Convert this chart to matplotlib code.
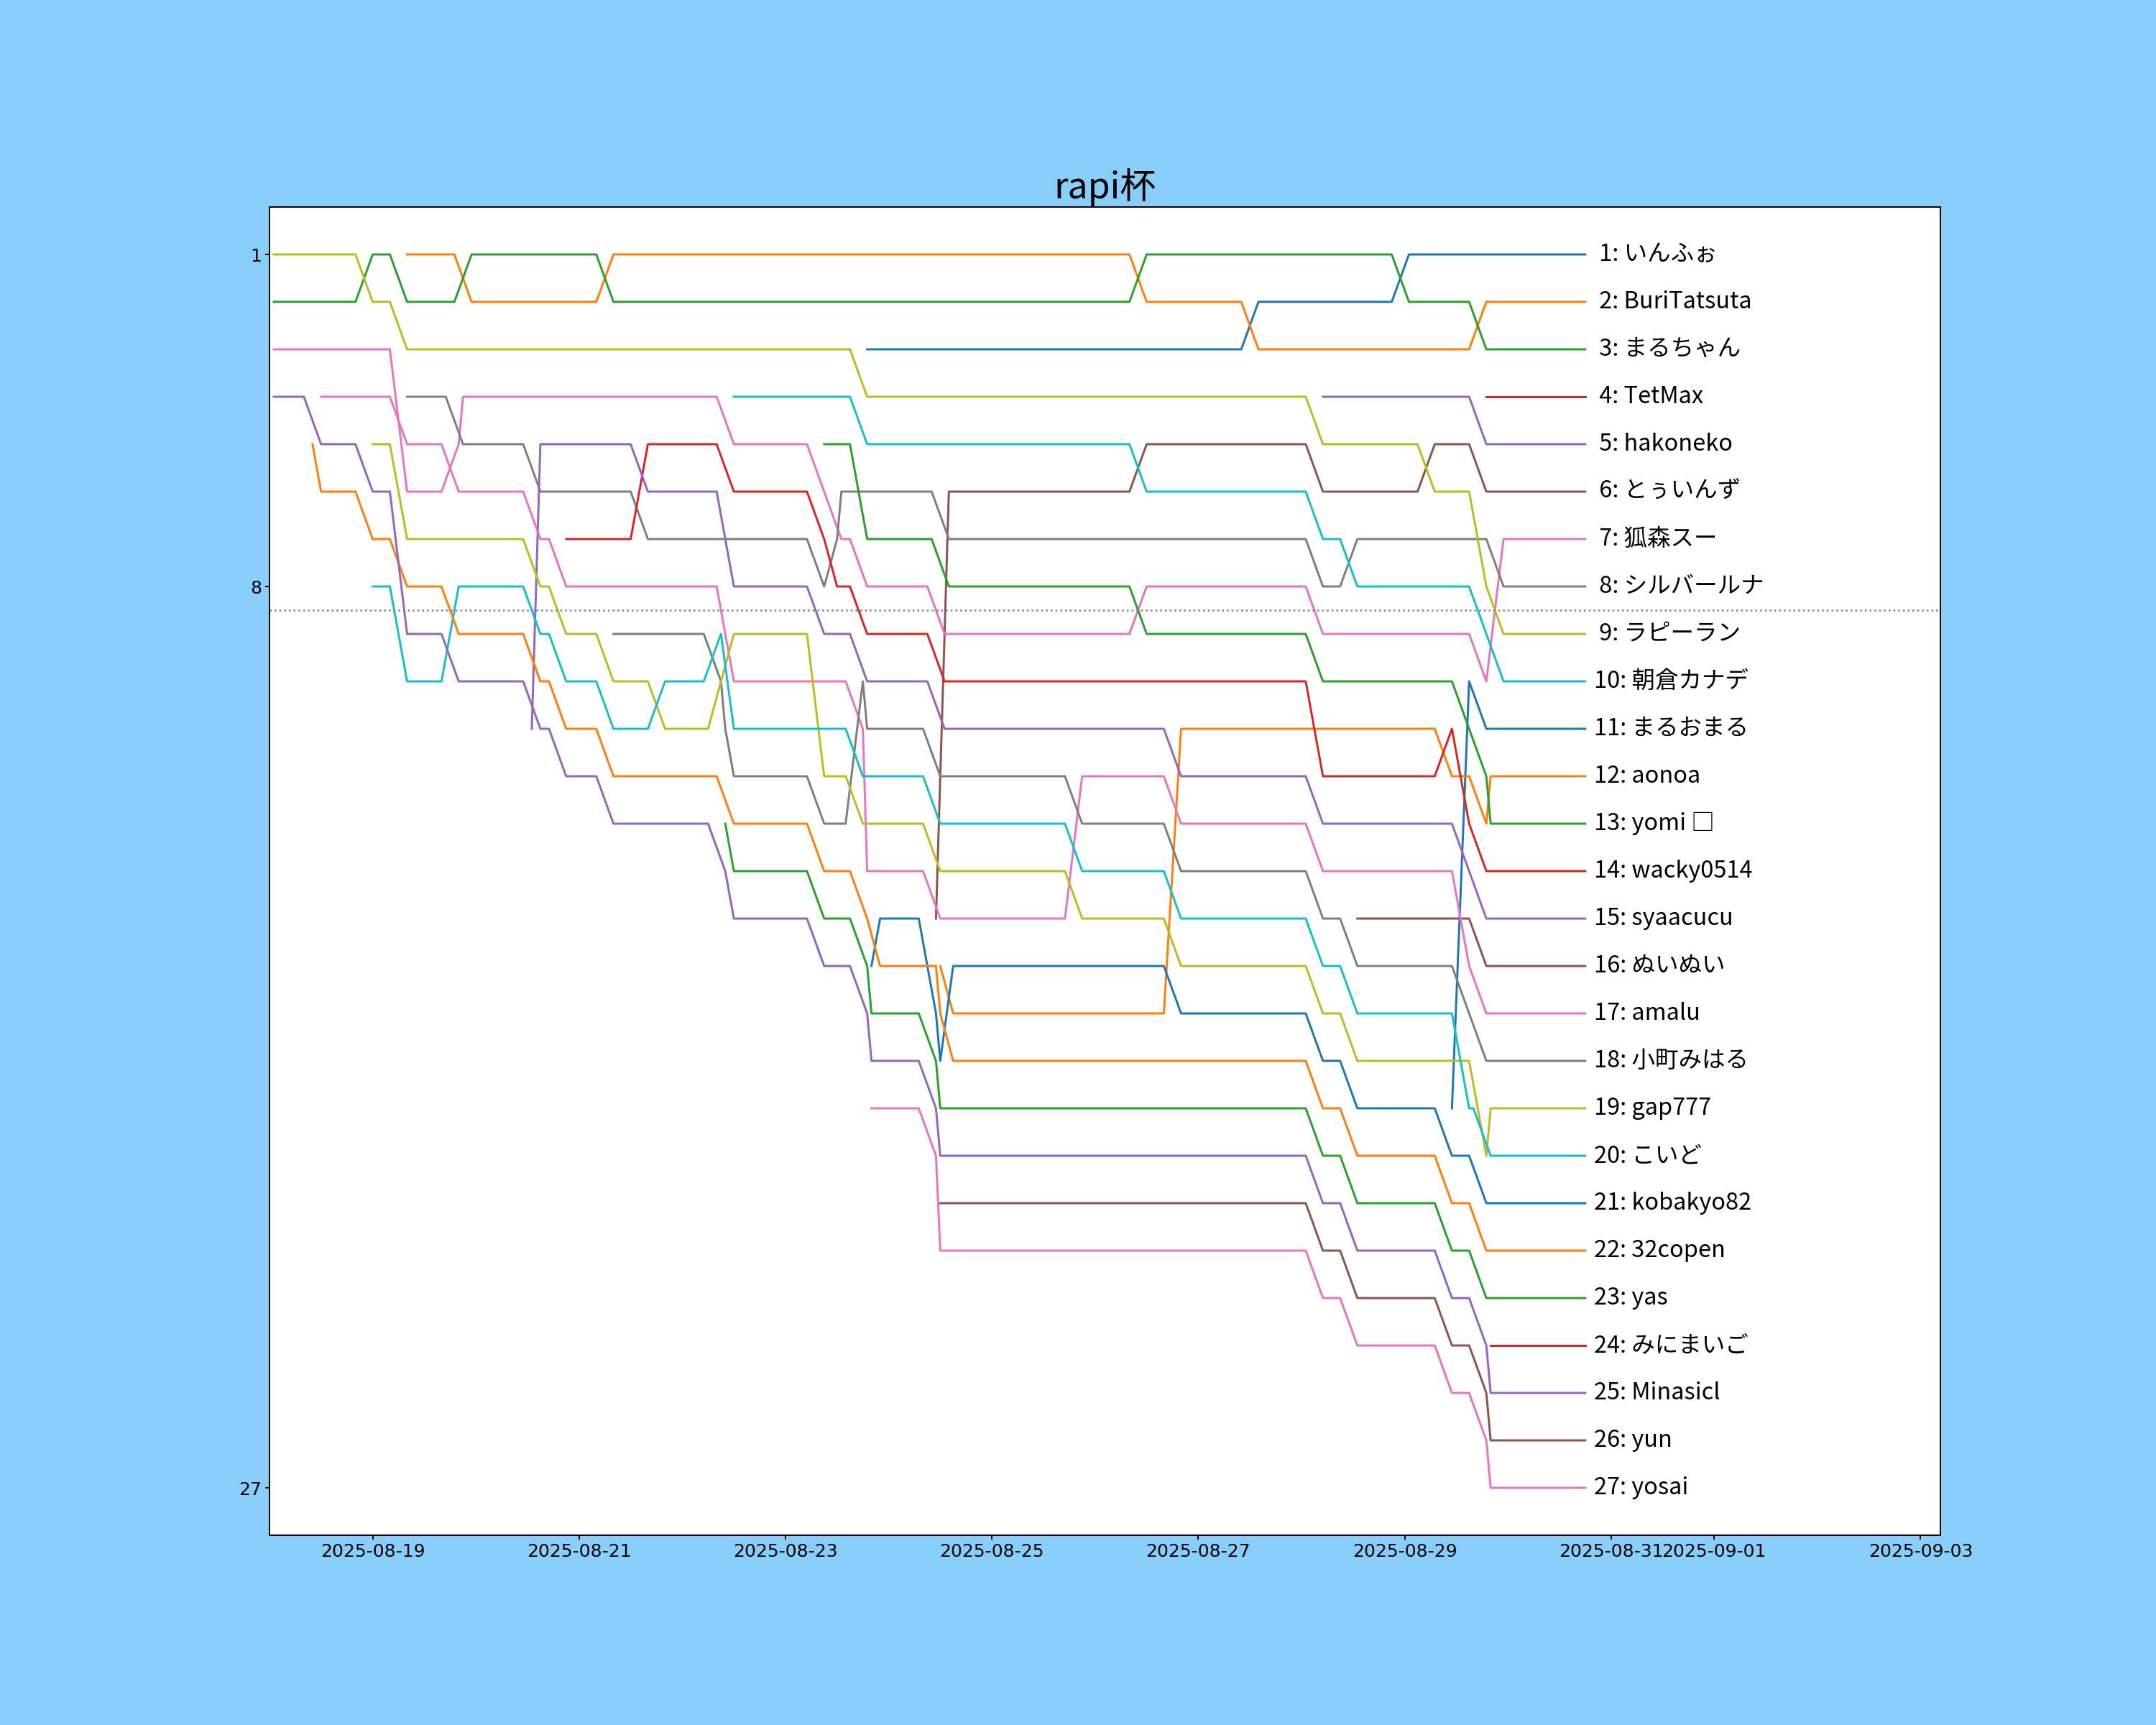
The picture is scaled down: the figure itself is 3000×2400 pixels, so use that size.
import pandas as pd
import matplotlib.pyplot as plt

start = pd.Timestamp("2025-08-18 00:00")
xmax_hours = 388.6

names = ["いんふぉ", "BuriTatsuta", "まるちゃん", "TetMax", "hakoneko",
         "とぅいんず", "狐森スー", "シルバールナ", "ラピーラン", "朝倉カナデ",
         "まるおまる", "aonoa", "yomi □", "wacky0514", "syaacucu",
         "ぬいぬい", "amalu", "小町みはる", "gap777", "こいど",
         "kobakyo82", "32copen", "yas", "みにまいご", "Minasicl",
         "yun", "yosai"]

r01 = [(139,3),(226,3),(230,2),(261,2),(265,1),(306,1)]
r02 = [(32,1),(43,1),(47,2),(76,2),(80,1),(200,1),(204,2),(226,2),(230,3),(279,3),(283,2),(306,2)]
r03 = [(1,2),(20,2),(24,1),(28,1),(32,2),(43,2),(47,1),(76,1),(80,2),(200,2),(204,1),(261,1),(265,2),(279,2),(283,3),(306,3)]
r04 = [(283,4),(306,4)]
r05 = [(245,4),(279,4),(283,5),(306,5)]
r06 = [(155,15),(158,6),(200,6),(204,5),(241,5),(245,6),(267,6),(271,5),(279,5),(283,6),(306,6)]
r07 = [(1,3),(28,3),(32,6),(40,6),(44,5),(45,4),(104,4),(108,5),(125,5),(133,7),(135,7),(139,8),(153,8),(157,9),
       (200,9),(204,8),(241,8),(245,9),(279,9),(283,10),(287,7),(306,7)]
r08 = [(32,4),(41,4),(45,5),(59,5),(63,6),(84,6),(88,7),(125,7),(129,8),(132,7),(133,6),(154,6),(158,7),(241,7),
       (245,8),(249,8),(253,7),(283,7),(287,8),(306,8)]
r09 = [(1,1),(20,1),(24,2),(28,2),(32,3),(135,3),(139,4),(241,4),(245,5),(267,5),(271,6),(279,6),(283,8),(287,9),(306,9)]
r10 = [(108,4),(135,4),(139,5),(200,5),(204,6),(241,6),(245,7),(249,7),(253,8),(279,8),(287,10),(306,10)]
r11 = [(275,19),(279,10),(283,11),(306,11)]
r12 = [(156,16),(159,17),(208,17),(212,11),(271,11),(275,12),(279,12),(283,13),(284,12),(306,12)]
r13 = [(129,5),(135,5),(139,7),(154,7),(158,8),(200,8),(204,9),(241,9),(245,10),(275,10),(283,12),(284,13),(306,13)]
r14 = [(69,7),(84,7),(88,5),(104,5),(108,6),(125,6),(129,7),(132,8),(135,8),(139,9),(153,9),(157,10),(241,10),
       (245,12),(271,12),(275,11),(279,13),(283,14),(306,14)]
r15 = [(61,11),(63,5),(84,5),(88,6),(104,6),(108,8),(125,8),(129,9),(135,9),(139,10),(153,10),(157,11),(208,11),
       (212,12),(241,12),(245,13),(275,13),(283,15),(306,15)]
r16 = [(253,15),(279,15),(283,16),(306,16)]
r17 = [(12,4),(28,4),(32,5),(40,5),(44,6),(59,6),(63,7),(65,7),(69,8),(104,8),(108,10),(134,10),(138,11),(139,14),
       (152,14),(156,15),(185,15),(189,12),(208,12),(212,13),(241,13),(245,14),(275,14),(279,16),(283,17),(306,17)]
r18 = [(80,9),(101,9),(105,10),(106,11),(108,12),(125,12),(129,13),(134,13),(138,10),(139,11),(152,11),(156,12),
       (185,12),(189,13),(208,13),(212,14),(241,14),(245,15),(249,15),(253,16),(275,16),(283,18),(306,18)]
r19 = [(24,5),(28,5),(32,7),(59,7),(63,8),(65,8),(69,9),(76,9),(80,10),(88,10),(92,11),(102,11),(108,9),(125,9),
       (129,12),(134,12),(138,13),(152,13),(156,14),(185,14),(189,15),(208,15),(212,16),(241,16),(245,17),(249,17),
       (253,18),(279,18),(283,20),(284,19),(306,19)]
r20 = [(24,8),(28,8),(32,10),(40,10),(44,8),(59,8),(63,9),(65,9),(69,10),(76,10),(80,11),(88,11),(92,10),(101,10),
       (105,9),(108,11),(134,11),(138,12),(152,12),(156,13),(185,13),(189,14),(208,14),(212,15),(241,15),(245,16),
       (249,16),(253,17),(275,17),(279,19),(280,19),(284,20),(306,20)]
r21 = [(140,16),(142,15),(151,15),(155,17),(156,18),(159,16),(208,16),(212,17),(241,17),(245,18),(249,18),(253,19),
       (271,19),(275,20),(279,20),(283,21),(306,21)]
r22 = [(10,5),(12,6),(20,6),(24,7),(28,7),(32,8),(40,8),(44,9),(59,9),(63,10),(65,10),(69,11),(76,11),(80,12),
       (104,12),(108,13),(125,13),(129,14),(135,14),(139,15),(142,16),(155,16),(156,17),(159,18),(241,18),(245,19),
       (249,19),(253,20),(271,20),(275,21),(279,21),(283,22),(306,22)]
r23 = [(106,13),(108,14),(125,14),(129,15),(135,15),(139,16),(140,17),(151,17),(155,18),(156,19),(241,19),(245,20),
       (249,20),(253,21),(271,21),(275,22),(279,22),(283,23),(306,23)]
r24 = [(284,24),(306,24)]
r25 = [(1,4),(8,4),(12,5),(20,5),(24,6),(28,6),(32,9),(40,9),(44,10),(59,10),(63,11),(65,11),(69,12),(76,12),
       (80,13),(102,13),(106,14),(108,15),(125,15),(129,16),(135,16),(139,17),(140,18),(151,18),(155,19),(156,20),
       (241,20),(245,21),(249,21),(253,22),(271,22),(275,23),(279,23),(283,24),(284,25),(306,25)]
r26 = [(156,21),(241,21),(245,22),(249,22),(253,23),(271,23),(275,24),(279,24),(283,25),(284,26),(306,26)]
r27 = [(140,19),(151,19),(155,20),(156,22),(241,22),(245,23),(249,23),(253,24),(271,24),(275,25),(279,25),
       (283,26),(284,27),(306,27)]

series = [r01, r02, r03, r04, r05, r06, r07, r08, r09, r10, r11, r12, r13, r14,
          r15, r16, r17, r18, r19, r20, r21, r22, r23, r24, r25, r26, r27]

jp_font = ["Noto Sans CJK JP", "DejaVu Sans"]

fig, ax = plt.subplots(figsize=(3000/180, 2400/180), dpi=180)
fig.patch.set_facecolor("lightskyblue")

for i, (name, pts) in enumerate(zip(names, series)):
    hours = [p[0] for p in pts]
    ranks = [p[1] for p in pts]
    t = start + pd.to_timedelta(hours, unit="h")
    ax.plot(t, ranks, lw=1.2)
    ax.text(t[-1] + pd.Timedelta(hours=2), ranks[-1], f"{i+1:>2}: {name}",
            va="center", ha="left", fontsize=13, family=jp_font)

ax.axhline(8.5, color="gray", linestyle=":", lw=1)
ax.set_ylim(28, 0)
ax.set_yticks([1, 8, 27])
ax.set_xlim(start, start + pd.Timedelta(hours=xmax_hours))
ax.tick_params(length=2.2, pad=2.2)
ax.set_title("rapi杯", fontsize=20, family=jp_font, pad=3)

fig.savefig("out.png", dpi=180, facecolor=fig.get_facecolor())
